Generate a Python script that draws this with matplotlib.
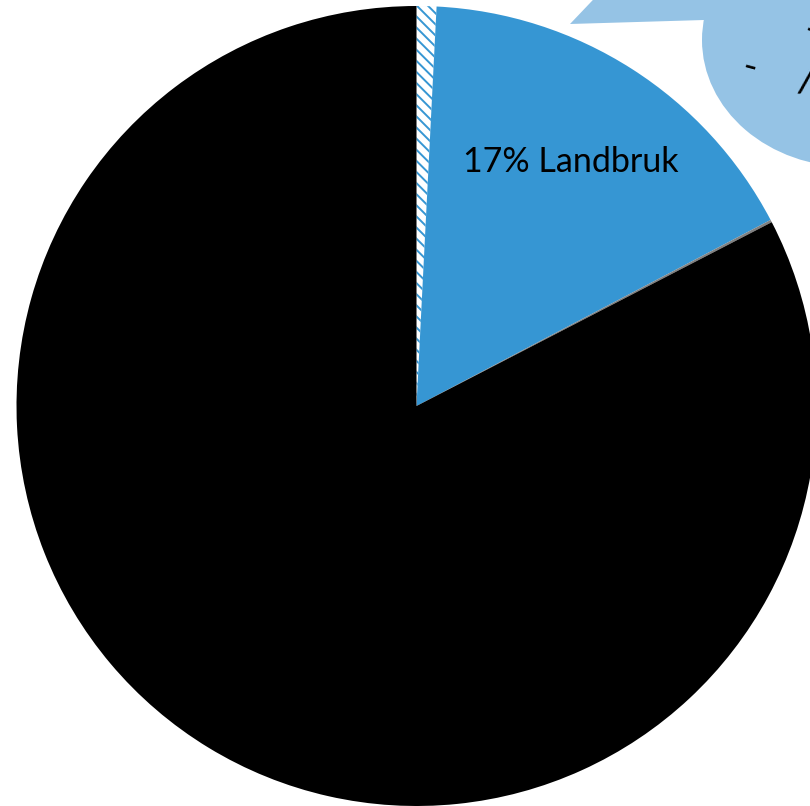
import matplotlib
matplotlib.use("Agg")
import matplotlib.pyplot as plt
from matplotlib.patches import Ellipse, Polygon

# Data (clockwise from 12 o'clock)
labels = ["Annet (skravert)", "Landbruk", "Smal andel", "Resten"]
values = [0.8, 16.5, 0.1, 82.6]
label_text = "17% Landbruk"
callout_texts = ["-", "-", "/"]

W, H = 810, 806
fig = plt.figure(figsize=(W / 100, H / 100), dpi=100)
ax = fig.add_axes([0, 0, 1, 1])

blue = "#3696d3"
light_blue = "#95c3e5"

# callout shape (behind pie)
ell = Ellipse((850, H - 40), 296, 254, facecolor=light_blue, edgecolor="none", zorder=0)
ax.add_patch(ell)
wedge_poly = Polygon([(570, H - 24), (704, H - 20), (850, H - 40), (650, H + 60)],
                     closed=True, facecolor=light_blue, edgecolor="none", zorder=0)
ax.add_patch(wedge_poly)

plt.rcParams["hatch.linewidth"] = 1.4
wedges, _ = ax.pie(values, startangle=90, counterclock=False,
                   center=(416.5, H - 406), radius=400, frame=True,
                   colors=["white", blue, "#808080", "black"],
                   wedgeprops=dict(linewidth=0))
wedges[0].set_hatch("\\\\\\")
wedges[0].set_edgecolor(blue)
wedges[0].set_linewidth(0.01)
for w in wedges:
    w.set_zorder(2)

ax.text(571, H - 172, label_text, fontsize=24.5, family=["Lato", "DejaVu Sans"],
        ha="center", va="baseline", color="black", zorder=3)

# fragments of callout text cut off at the right edge
ax.text(750, H - 68, callout_texts[0], fontsize=28, family=["Lato", "DejaVu Sans"],
        ha="center", va="center", rotation=-15, color="black", zorder=3)
ax.text(812, H - 31, callout_texts[1], fontsize=28, family=["Lato", "DejaVu Sans"],
        ha="center", va="center", rotation=-15, color="black", zorder=3)
ax.text(807, H - 80, callout_texts[2], fontsize=30, family=["Lato", "DejaVu Sans"],
        ha="center", va="center", rotation=-8, color="black", zorder=3)

ax.set_xlim(0, W)
ax.set_ylim(0, H)
ax.set_aspect("auto")
ax.axis("off")
fig.savefig("out.png", dpi=100)
